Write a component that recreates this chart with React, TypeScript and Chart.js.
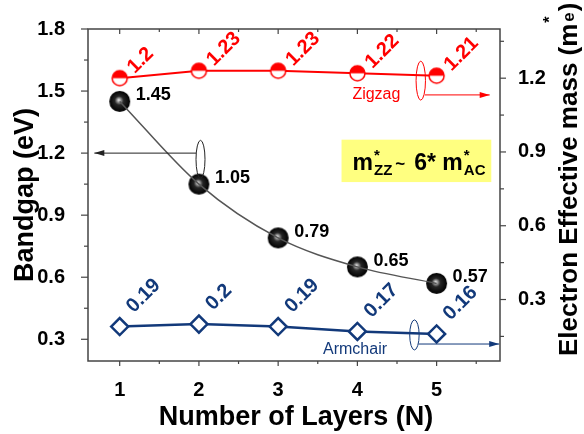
import React, { useEffect, useRef } from 'react';
import { Chart, registerables } from 'chart.js';

Chart.register(...registerables);

// ---- data ----
const layers = [1, 2, 3, 4, 5];
const bandgap = [1.45, 1.05, 0.79, 0.65, 0.57];
const zigzagMass = [1.2, 1.23, 1.23, 1.22, 1.21];
const armchairMass = [0.19, 0.2, 0.19, 0.17, 0.16];
const bandgapLabels = ['1.45', '1.05', '0.79', '0.65', '0.57'];
const zigzagLabels = ['1.2', '1.23', '1.23', '1.22', '1.21'];
const armchairLabels = ['0.19', '0.2', '0.19', '0.17', '0.16'];
const xTicks = [1, 2, 3, 4, 5];
const leftTicks = [0.3, 0.6, 0.9, 1.2, 1.5, 1.8];
const rightTicks = [0.3, 0.6, 0.9, 1.2];

const X_MIN = 0.6, X_MAX = 5.8;
const L_MIN = 0.195, L_MAX = 1.8;
const R_MIN = 0.05, R_MAX = 1.4;

const RED = '#ff0000';
const NAVY = '#12397a';
const AXIS = '#444444';
const FONT = '"Liberation Sans", Arial, Helvetica, sans-serif';

function makeHalfCircle(r: number, color: string) {
  const size = Math.ceil(r * 2 + 4);
  const c = document.createElement('canvas');
  c.width = size; c.height = size;
  const g = c.getContext('2d')!;
  const cx = size / 2, cy = size / 2;
  g.beginPath(); g.arc(cx, cy, r, 0, Math.PI * 2); g.fillStyle = '#fff'; g.fill();
  g.beginPath(); g.arc(cx, cy, r, Math.PI, Math.PI * 2); g.closePath(); g.fillStyle = color; g.fill();
  g.beginPath(); g.arc(cx, cy, r, 0, Math.PI * 2); g.lineWidth = 1.5; g.strokeStyle = color; g.stroke();
  return c;
}

function makeBall(r: number) {
  const size = Math.ceil(r * 2 + 2);
  const c = document.createElement('canvas');
  c.width = size; c.height = size;
  const g = c.getContext('2d')!;
  const cx = size / 2, cy = size / 2;
  const grad = g.createRadialGradient(cx - 1, cy - 1.5, 0, cx, cy, r);
  grad.addColorStop(0, '#eeeeee');
  grad.addColorStop(0.18, '#9a9a9a');
  grad.addColorStop(0.42, '#262626');
  grad.addColorStop(1, '#000000');
  g.beginPath(); g.arc(cx, cy, r, 0, Math.PI * 2); g.fillStyle = grad; g.fill();
  return c;
}

function arrow(ctx: CanvasRenderingContext2D, x1: number, y: number, x2: number, color: string) {
  ctx.strokeStyle = color; ctx.fillStyle = color; ctx.lineWidth = 1;
  ctx.beginPath(); ctx.moveTo(x1, y); ctx.lineTo(x2, y); ctx.stroke();
  const d = Math.sign(x2 - x1);
  ctx.beginPath(); ctx.moveTo(x2, y); ctx.lineTo(x2 - d * 10, y - 3); ctx.lineTo(x2 - d * 10, y + 3); ctx.closePath(); ctx.fill();
}

function mids(arr: number[], lo: number, hi: number) {
  const step = arr[1] - arr[0];
  const out: number[] = [];
  for (let v = arr[0] - step / 2; v <= arr[arr.length - 1] + step; v += step) {
    if (v > lo + 1e-6 && v < hi - 1e-6) out.push(v);
  }
  return out;
}

const customPlugin = {
  id: 'custom',
  afterDraw(chart: any) {
    const { ctx, chartArea: ca, scales } = chart;
    const xs = scales.x, yl = scales.y, yr = scales.y1;
    ctx.save();
    // frame
    ctx.strokeStyle = AXIS; ctx.lineWidth = 1.5;
    ctx.strokeRect(ca.left, ca.top, ca.right - ca.left, ca.bottom - ca.top);
    ctx.lineWidth = 1.2;
    const line = (x1: number, y1: number, x2: number, y2: number) => {
      ctx.beginPath(); ctx.moveTo(x1, y1); ctx.lineTo(x2, y2); ctx.stroke();
    };
    xTicks.forEach(v => {
      const p = xs.getPixelForValue(v);
      line(p, ca.bottom, p, ca.bottom + 5);
      line(p, ca.top, p, ca.top + 5);
    });
    mids(xTicks, X_MIN, X_MAX).forEach(v => {
      const p = xs.getPixelForValue(v);
      line(p, ca.bottom, p, ca.bottom + 3);
      line(p, ca.top, p, ca.top + 3);
    });
    leftTicks.forEach(v => { const p = yl.getPixelForValue(v); line(ca.left - 7, p, ca.left, p); });
    mids(leftTicks, L_MIN, L_MAX).forEach(v => { const p = yl.getPixelForValue(v); line(ca.left - 4, p, ca.left, p); });
    rightTicks.forEach(v => { const p = yr.getPixelForValue(v); line(ca.right, p, ca.right + 6, p); });
    mids(rightTicks, R_MIN, R_MAX).forEach(v => { const p = yr.getPixelForValue(v); line(ca.right, p, ca.right + 4, p); });

    // data labels
    ctx.textAlign = 'left'; ctx.textBaseline = 'alphabetic';
    ctx.font = `bold 18px ${FONT}`; ctx.fillStyle = '#000';
    layers.forEach((x, i) => {
      ctx.fillText(bandgapLabels[i], xs.getPixelForValue(x) + 16, yl.getPixelForValue(bandgap[i]) - 1);
    });
    const rotLabel = (txt: string, px: number, py: number, color: string) => {
      ctx.save(); ctx.translate(px, py); ctx.rotate(-Math.PI / 4);
      ctx.font = `bold 20px ${FONT}`; ctx.fillStyle = color; ctx.fillText(txt, 0, 0); ctx.restore();
    };
    layers.forEach((x, i) => {
      rotLabel(zigzagLabels[i], xs.getPixelForValue(x) + 15, yr.getPixelForValue(zigzagMass[i]) - 4, RED);
      rotLabel(armchairLabels[i], xs.getPixelForValue(x) + 14, yr.getPixelForValue(armchairMass[i]) - 13, NAVY);
    });

    // annotations: bandgap ellipse + arrow to left axis
    {
      const cx = xs.getPixelForValue(2.02), cy = yl.getPixelForValue(1.17);
      ctx.strokeStyle = '#222'; ctx.lineWidth = 1;
      ctx.beginPath(); ctx.ellipse(cx, cy, 4.5, 19, 0, 0, Math.PI * 2); ctx.stroke();
      arrow(ctx, cx - 4.5, yl.getPixelForValue(1.2), xs.getPixelForValue(0.68), '#222');
    }
    // zigzag ellipse + arrow right
    {
      const cx = xs.getPixelForValue(4.8), cy = yr.getPixelForValue(1.19);
      ctx.strokeStyle = RED; ctx.lineWidth = 1;
      ctx.beginPath(); ctx.ellipse(cx, cy, 4.7, 19.5, 0, 0, Math.PI * 2); ctx.stroke();
      arrow(ctx, cx + 4, yr.getPixelForValue(1.132), xs.getPixelForValue(5.67), RED);
      ctx.font = `16px ${FONT}`; ctx.fillStyle = RED; ctx.textAlign = 'center';
      ctx.fillText('Zigzag', xs.getPixelForValue(4.24), yr.getPixelForValue(1.115));
    }
    // armchair ellipse + arrow right
    {
      const cx = xs.getPixelForValue(4.72), cy = yr.getPixelForValue(0.156);
      ctx.strokeStyle = NAVY; ctx.lineWidth = 1;
      ctx.beginPath(); ctx.ellipse(cx, cy, 4.7, 15, 0, 0, Math.PI * 2); ctx.stroke();
      arrow(ctx, cx + 4, yr.getPixelForValue(0.119), xs.getPixelForValue(5.79), NAVY);
      ctx.font = `16px ${FONT}`; ctx.fillStyle = NAVY; ctx.textAlign = 'center';
      ctx.fillText('Armchair', xs.getPixelForValue(3.97), yr.getPixelForValue(0.079));
    }
    // yellow box
    {
      const bl = xs.getPixelForValue(3.8), br = xs.getPixelForValue(5.69);
      const bt = yl.getPixelForValue(1.265), bb = yl.getPixelForValue(1.06);
      ctx.fillStyle = '#ffff80'; ctx.fillRect(bl, bt, br - bl, bb - bt);
      ctx.fillStyle = '#000'; ctx.textAlign = 'left'; ctx.textBaseline = 'alphabetic';
      let x = bl + 11; const base = bt + 30;
      ctx.font = `bold 23px ${FONT}`; ctx.fillText('m', x, base); x += ctx.measureText('m').width + 1;
      ctx.font = `bold 15px ${FONT}`; ctx.fillText('*', x, base - 10);
      ctx.fillText('ZZ', x, base + 5.5); x += ctx.measureText('ZZ').width + 3;
      ctx.font = `bold 17px ${FONT}`; ctx.fillText('~', x, base - 1); x += ctx.measureText('~').width + 9;
      ctx.font = `bold 23px ${FONT}`; ctx.fillText('6* m', x, base); x += ctx.measureText('6* m').width + 1;
      ctx.font = `bold 15px ${FONT}`; ctx.fillText('*', x, base - 10);
      ctx.fillText('AC', x, base + 5.5);
    }

    // axis titles
    ctx.fillStyle = '#000';
    ctx.save();
    ctx.translate(33, (ca.top + ca.bottom) / 2);
    ctx.rotate(-Math.PI / 2);
    ctx.font = `bold 27px ${FONT}`; ctx.textAlign = 'center'; ctx.textBaseline = 'alphabetic';
    ctx.fillText('Bandgap (eV)', 0, 0);
    ctx.restore();

    ctx.font = `bold 27px ${FONT}`; ctx.textAlign = 'center'; ctx.textBaseline = 'alphabetic';
    ctx.fillText('Number of Layers (N)', (ca.left + ca.right) / 2 + 2, 425);

    ctx.save();
    ctx.translate(577, 356);
    ctx.rotate(-Math.PI / 2);
    ctx.textAlign = 'left';
    ctx.font = `bold 26px ${FONT}`;
    const main = 'Electron Effective mass (m';
    ctx.fillText(main, 0, 0);
    let w = ctx.measureText(main).width;
    ctx.font = `bold 16px ${FONT}`;
    ctx.fillText('*', w + 1, -22);
    ctx.font = `bold 17px ${FONT}`;
    ctx.fillText('e', w + 2, -3);
    w += ctx.measureText('e').width + 3;
    ctx.font = `bold 26px ${FONT}`;
    ctx.fillText(')', w, 0);
    ctx.restore();

    ctx.restore();
  },
};

export default function App() {
  const ref = useRef<HTMLCanvasElement>(null);
  useEffect(() => {
    document.body.style.margin = '0';
    const half = makeHalfCircle(7.5, RED);
    const ball = makeBall(10.5);
    const tickFont = { family: FONT, size: 20, weight: 'bold' as const };
    const chart = new Chart(ref.current!, {
      type: 'line',
      data: {
        datasets: [
          {
            label: 'Bandgap fit',
            data: layers.map((x, i) => ({ x, y: bandgap[i] })),
            yAxisID: 'y',
            borderColor: '#555555', borderWidth: 1.5,
            pointRadius: 0, cubicInterpolationMode: 'monotone', fill: false, order: 0,
          },
          {
            label: 'Bandgap',
            data: layers.map((x, i) => ({ x, y: bandgap[i] })),
            yAxisID: 'y', showLine: false,
            pointStyle: ball as any, pointRadius: 10.5, order: 1,
          },
          {
            label: 'Zigzag',
            data: layers.map((x, i) => ({ x, y: zigzagMass[i] })),
            yAxisID: 'y1',
            borderColor: RED, borderWidth: 2,
            pointStyle: half as any, pointRadius: 7.5, order: 2,
          },
          {
            label: 'Armchair',
            data: layers.map((x, i) => ({ x, y: armchairMass[i] })),
            yAxisID: 'y1',
            borderColor: NAVY, borderWidth: 2.5,
            pointStyle: 'rectRot', pointRadius: 8.5,
            pointBackgroundColor: '#ffffff', pointBorderColor: NAVY, pointBorderWidth: 2.5, order: 3,
          },
        ],
      },
      options: {
        animation: false,
        responsive: false,
        events: [],
        layout: { padding: { top: 29, left: 0, right: 0, bottom: 0 } },
        plugins: { legend: { display: false }, tooltip: { enabled: false }, title: { display: false } },
        scales: {
          x: {
            type: 'linear', position: 'bottom', min: X_MIN, max: X_MAX, bounds: 'data',
            grid: { display: false }, border: { display: false },
            ticks: { font: tickFont, color: '#000', padding: 9, autoSkip: false, maxRotation: 0, callback: (v: any) => String(v) },
            afterBuildTicks: (s: any) => { s.ticks = xTicks.map(v => ({ value: v })); },
            afterFit: (s: any) => { s.height = 73; },
          },
          y: {
            type: 'linear', position: 'left', min: L_MIN, max: L_MAX, bounds: 'data',
            grid: { display: false }, border: { display: false },
            ticks: { font: tickFont, color: '#000', padding: 15, autoSkip: false, callback: (v: any) => Number(v).toFixed(1) },
            afterBuildTicks: (s: any) => { s.ticks = leftTicks.map(v => ({ value: v })); },
            afterFit: (s: any) => { s.width = 88; },
          },
          y1: {
            type: 'linear', position: 'right', min: R_MIN, max: R_MAX, bounds: 'data',
            grid: { display: false }, border: { display: false },
            ticks: { font: tickFont, color: '#000', padding: 10, autoSkip: false, callback: (v: any) => Number(v).toFixed(1) },
            afterBuildTicks: (s: any) => { s.ticks = rightTicks.map(v => ({ value: v })); },
            afterFit: (s: any) => { s.width = 84; },
          },
        },
      },
      plugins: [customPlugin],
    } as any);
    return () => chart.destroy();
  }, []);
  return (
    <div style={{ width: 584, height: 434, background: '#fff' }}>
      <canvas ref={ref} width={584} height={434} />
    </div>
  );
}
